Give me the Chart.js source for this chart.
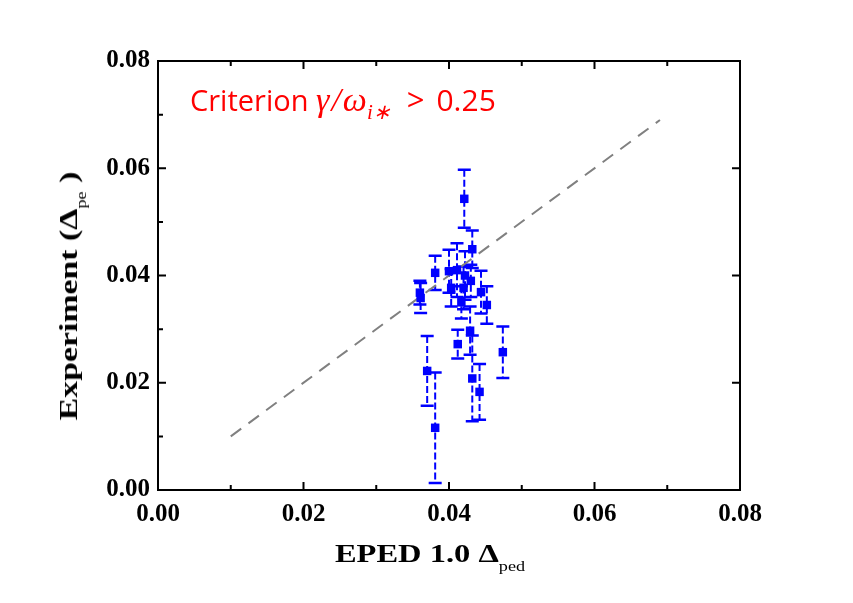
<!DOCTYPE html>
<html>
<head>
<meta charset="utf-8">
<script src="https://cdn.jsdelivr.net/npm/chart.js@4.4.3/dist/chart.umd.min.js"></script>
<style>
  html, body { margin: 0; padding: 0; background: #fff; }
  #wrap { position: relative; width: 853px; height: 603px; }
  #c { position: absolute; left: 0; top: 0; }
  .serif { font-family: "Liberation Serif", "Times New Roman", serif; font-weight: bold; color: #000; white-space: nowrap; }
  #xtitle { position: absolute; left: 430px; top: 557px; transform: translate(-50%, -50%) scaleX(1.3); font-size: 25px; }
  #ytitle { position: absolute; left: 72px; top: 296px; transform: translate(-50%, -50%) rotate(-90deg) scaleX(1.3); font-size: 26px; }
  .sub { font-size: 14px; font-weight: normal; vertical-align: -9px; }
  #note { position: absolute; left: 190px; top: 78px; color: #ff0000; font-family: "Open Sans", "Noto Sans", sans-serif; font-size: 29px; white-space: nowrap; }
  #note .m { font-family: "Liberation Serif", serif; font-style: italic; font-size: 34px; }
  #note .sl { margin: 0 2px; }
  #note .ms { font-family: "Liberation Serif", serif; font-style: italic; font-size: 21px; vertical-align: -8px; }
  #note .gt { margin: 0 12px 0 16px; font-size: 31px; }
  #note .num { font-size: 30px; }
</style>
</head>
<body>
<div id="wrap">
  <canvas id="c" width="853" height="603"></canvas>
  <div id="note">Criterion <span class="m">γ</span><span class="m sl">/</span><span class="m">ω</span><span class="ms">i∗</span><span class="gt">&gt;</span><span class="num">0.25</span></div>
  <div id="xtitle" class="serif">EPED 1.0 Δ<span class="sub">ped</span></div>
  <div id="ytitle" class="serif">Experiment (Δ<span class="sub">pe</span> )</div>
</div>
<script>
// measured points (EPED width vs experiment width) with symmetric y errors
const expX   = [0.0421, 0.0432, 0.0411, 0.0381, 0.0360, 0.0361, 0.0400, 0.0403, 0.0422, 0.0420,
                0.0444, 0.0452, 0.0430, 0.0417, 0.0429, 0.0412, 0.0474, 0.0370, 0.0432, 0.0442, 0.0381];
const expY   = [0.0543, 0.0449, 0.0410, 0.0405, 0.0368, 0.0358, 0.0408, 0.0377, 0.0400, 0.0377,
                0.0369, 0.0345, 0.0390, 0.0350, 0.0297, 0.0272, 0.0257, 0.0222, 0.0208, 0.0183, 0.0116];
const expErr = [0.0054, 0.0035, 0.0050, 0.0032, 0.0022, 0.0028, 0.0040, 0.0035, 0.0045, 0.0040,
                0.0040, 0.0035, 0.0030, 0.0030, 0.0045, 0.0027, 0.0048, 0.0065, 0.0080, 0.0052, 0.0103];

// y = x reference line
const lineX = [0.01, 0.069];
const lineY = [0.01, 0.069];

const xTicks = [0.00, 0.02, 0.04, 0.06, 0.08];
const yTicks = [0.00, 0.02, 0.04, 0.06, 0.08];
const minorTicks = [0.01, 0.03, 0.05, 0.07];

const BLUE = '#0000ff';
const tickFont = { family: '"Liberation Serif", "Times New Roman", serif', size: 25, weight: 'bold' };

// error bars drawn under the markers
const errorBars = {
    id: 'errorBars',
    beforeDatasetsDraw(chart) {
        const { ctx, scales: { x, y } } = chart;
        ctx.save();
        ctx.strokeStyle = BLUE;
        for (let i = 0; i < expX.length; i++) {
            const px = x.getPixelForValue(expX[i]);
            const top = y.getPixelForValue(expY[i] + expErr[i]);
            const bot = y.getPixelForValue(expY[i] - expErr[i]);
            ctx.lineWidth = 2;
            ctx.setLineDash([7, 3]);
            ctx.beginPath();
            ctx.moveTo(px, top);
            ctx.lineTo(px, bot);
            ctx.stroke();
            ctx.setLineDash([]);
            ctx.lineWidth = 2.5;
            ctx.beginPath();
            ctx.moveTo(px - 6.5, top); ctx.lineTo(px + 6.5, top);
            ctx.moveTo(px - 6.5, bot); ctx.lineTo(px + 6.5, bot);
            ctx.stroke();
        }
        ctx.restore();
    }
};

// box frame and inward ticks, Origin style
const frame = {
    id: 'frame',
    afterDraw(chart) {
        const { ctx, chartArea: a, scales: { x, y } } = chart;
        ctx.save();
        ctx.strokeStyle = '#000';
        ctx.lineWidth = 2;
        ctx.strokeRect(a.left, a.top, a.right - a.left, a.bottom - a.top);
        ctx.beginPath();
        xTicks.forEach(v => {
            const p = x.getPixelForValue(v);
            ctx.moveTo(p, a.bottom); ctx.lineTo(p, a.bottom - 8);
            ctx.moveTo(p, a.top); ctx.lineTo(p, a.top + 8);
        });
        minorTicks.forEach(v => {
            const p = x.getPixelForValue(v);
            ctx.moveTo(p, a.bottom); ctx.lineTo(p, a.bottom - 5);
            ctx.moveTo(p, a.top); ctx.lineTo(p, a.top + 5);
        });
        yTicks.forEach(v => {
            const p = y.getPixelForValue(v);
            ctx.moveTo(a.left, p); ctx.lineTo(a.left + 8, p);
            ctx.moveTo(a.right, p); ctx.lineTo(a.right - 8, p);
        });
        minorTicks.forEach(v => {
            const p = y.getPixelForValue(v);
            ctx.moveTo(a.left, p); ctx.lineTo(a.left + 5, p);
        });
        ctx.stroke();
        ctx.restore();
    }
};

new Chart(document.getElementById('c'), {
    type: 'scatter',
    data: {
        datasets: [
            {
                data: expX.map((v, i) => ({ x: v, y: expY[i] })),
                pointStyle: 'rect',
                pointRadius: 6,
                backgroundColor: BLUE,
                borderColor: BLUE,
                borderWidth: 0
            },
            {
                type: 'line',
                data: lineX.map((v, i) => ({ x: v, y: lineY[i] })),
                borderColor: '#808080',
                borderWidth: 2,
                borderDash: [13, 9],
                pointRadius: 0,
                fill: false
            }
        ]
    },
    options: {
        responsive: false,
        animation: false,
        layout: { padding: { top: 61, right: 113, left: 0, bottom: 0 } },
        plugins: { legend: { display: false }, tooltip: { enabled: false } },
        scales: {
            x: {
                type: 'linear', min: 0, max: 0.08,
                afterBuildTicks: s => { s.ticks = xTicks.map(v => ({ value: v })); },
                afterFit: s => { s.height = 113; },
                grid: { display: false, drawTicks: false },
                border: { display: false },
                ticks: { padding: 10, color: '#000', font: tickFont, maxRotation: 0, callback: v => v.toFixed(2) }
            },
            y: {
                type: 'linear', min: 0, max: 0.08,
                afterBuildTicks: s => { s.ticks = yTicks.map(v => ({ value: v })); },
                afterFit: s => { s.width = 158; },
                grid: { display: false, drawTicks: false },
                border: { display: false },
                ticks: { padding: 8, color: '#000', font: tickFont, callback: v => v.toFixed(2) }
            }
        }
    },
    plugins: [errorBars, frame]
});
</script>
</body>
</html>
